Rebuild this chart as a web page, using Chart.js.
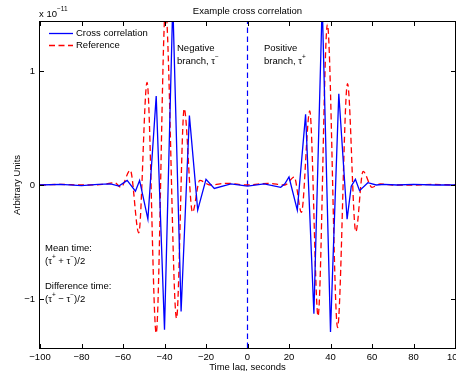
<!DOCTYPE html>
<html>
<head>
<meta charset="utf-8">
<script src="https://cdn.jsdelivr.net/npm/chart.js@4.4.0/dist/chart.umd.min.js"></script>
<style>
  html, body { margin: 0; padding: 0; background: #fff; }
  #wrap { width: 456px; height: 371px; position: relative; }
</style>
</head>
<body>
<div id="wrap"><canvas id="xcorr-chart"></canvas></div>
<script>
/* Example cross correlation - amplitudes in units of 1e-11 */

// Cross correlation (blue, sampled, straight segments)
const crossLag = [-100, -90, -80, -72, -66, -62, -58, -54, -52, -48, -44, -40, -36, -32, -28, -24, -20, -16, -8, 0,
  8, 16, 18, 20, 24, 28, 32, 36, 40, 44, 48, 50, 52, 54, 58, 62, 66, 72, 80, 90, 100];
const crossCorr = [0, 0.005, -0.005, 0.005, 0.01, -0.01, 0.04, -0.055, 0.04, -0.30, 0.78, -1.27, 1.60, -1.11, 0.61, -0.22, 0.05, -0.03, 0.01, -0.01,
  0.01, -0.02, 0.01, 0.07, -0.22, 0.62, -1.13, 1.60, -1.29, 0.80, -0.30, -0.01, 0.05, -0.05, 0.02, 0, 0.005, 0, 0.005, 0, 0];

// Reference (red dashed, smooth)
const refLag = [-100, -90, -80, -70, -64, -61, -56.5, -52.4, -48.4, -44, -39.5, -34.2, -30.5, -26.5, -23, -18, -10, 0,
  10, 18, 22.5, 26, 30, 34, 38.5, 43.4, 48.2, 52.2, 55.7, 60, 64, 70, 80, 90, 100];
const reference = [0, 0.005, 0, 0.005, 0.02, -0.02, 0.13, -0.42, 0.90, -1.30, 1.55, -1.17, 0.67, -0.24, 0.04, 0, 0.015, 0,
  0.015, 0, 0.07, -0.24, 0.65, -1.15, 1.41, -1.25, 0.89, -0.41, 0.12, -0.02, 0.01, 0, 0, 0.005, 0];

const xTickValues = [-100, -80, -60, -40, -20, 0, 20, 40, 60, 80, 100];
const yTickValues = [-1, 0, 1];
const Y_MIN = -1.43;
const Y_MAX = 1.43;

const FONT = '"Liberation Sans", Arial, Helvetica, sans-serif';
const BASE_FONT = '9.5px ' + FONT;
const SUP_FONT = '6.5px ' + FONT;

const fmt = v => (v < 0 ? '\u2212' + Math.abs(v) : String(v));
const toPoints = (xs, ys) => xs.map((x, i) => ({ x: x, y: ys[i] }));

// draw a line of text with superscript parts
function drawRich(ctx, parts, x, y, rise) {
  let cx = x;
  parts.forEach(p => {
    ctx.font = p.sup ? SUP_FONT : BASE_FONT;
    ctx.fillText(p.t, cx, p.sup ? y - (rise || 4) : y);
    cx += ctx.measureText(p.t).width;
  });
}

const matlabDecor = {
  id: 'matlabDecor',
  afterDatasetsDraw(chart) {
    const { ctx, chartArea: a, scales } = chart;
    const xs = scales.x, ys = scales.y;
    ctx.save();
    ctx.strokeStyle = '#000';
    ctx.lineWidth = 1;
    ctx.strokeRect(a.left - 0.5, a.top - 0.5, a.right - a.left + 1, a.bottom - a.top + 1);

    // inward tick marks
    ctx.beginPath();
    xTickValues.forEach(v => {
      const px = Math.round(xs.getPixelForValue(v)) + 0.5;
      ctx.moveTo(px, a.bottom); ctx.lineTo(px, a.bottom - 4);
      ctx.moveTo(px, a.top); ctx.lineTo(px, a.top + 4);
    });
    yTickValues.forEach(v => {
      const py = Math.round(ys.getPixelForValue(v)) + 0.5;
      ctx.moveTo(a.left, py); ctx.lineTo(a.left + 4, py);
      ctx.moveTo(a.right, py); ctx.lineTo(a.right - 4, py);
    });
    ctx.stroke();

    ctx.fillStyle = '#000';
    ctx.textBaseline = 'middle';

    // title
    ctx.font = BASE_FONT;
    ctx.textAlign = 'center';
    ctx.fillText('Example cross correlation', (a.left + a.right) / 2, 11);
    ctx.fillText('Time lag, seconds', (a.left + a.right) / 2, 367);

    ctx.save();
    ctx.translate(17, (a.top + a.bottom) / 2);
    ctx.rotate(-Math.PI / 2);
    ctx.fillText('Arbitrary Units', 0, 0);
    ctx.restore();

    ctx.textAlign = 'left';
    drawRich(ctx, [{ t: 'x 10' }, { t: '\u221211', sup: true }], 39, 14, 5);

    // legend
    const ds = chart.data.datasets;
    [0, 1].forEach(i => {
      const ly = 33.5 + i * 12;
      ctx.strokeStyle = ds[i].borderColor;
      ctx.lineWidth = ds[i].borderWidth;
      ctx.setLineDash(ds[i].borderDash || []);
      ctx.beginPath();
      ctx.moveTo(49, ly); ctx.lineTo(73, ly);
      ctx.stroke();
      ctx.setLineDash([]);
      ctx.font = BASE_FONT;
      ctx.fillText(ds[i].label, 76, ly);
    });

    // annotations
    ctx.font = BASE_FONT;
    ctx.fillText('Negative', 177, 48);
    drawRich(ctx, [{ t: 'branch, \u03c4' }, { t: '\u2212', sup: true }], 177, 61);
    ctx.font = BASE_FONT;
    ctx.fillText('Positive', 264, 48);
    drawRich(ctx, [{ t: 'branch, \u03c4' }, { t: '+', sup: true }], 264, 61);

    ctx.font = BASE_FONT;
    ctx.fillText('Mean time:', 45, 248);
    drawRich(ctx, [{ t: '(\u03c4' }, { t: '+', sup: true }, { t: ' + \u03c4' }, { t: '\u2212', sup: true }, { t: ')/2' }], 45, 261);
    ctx.font = BASE_FONT;
    ctx.fillText('Difference time:', 45, 286);
    drawRich(ctx, [{ t: '(\u03c4' }, { t: '+', sup: true }, { t: ' \u2212 \u03c4' }, { t: '\u2212', sup: true }, { t: ')/2' }], 45, 299);
    ctx.restore();
  }
};

const ctx = document.getElementById('xcorr-chart').getContext('2d');
new Chart(ctx, {
  type: 'line',
  data: {
    datasets: [
      {
        label: 'Cross correlation',
        data: toPoints(crossLag, crossCorr),
        borderColor: '#0000ff',
        borderWidth: 1.3,
        pointRadius: 0,
        tension: 0,
        order: 1
      },
      {
        label: 'Reference',
        data: toPoints(refLag, reference),
        borderColor: '#ff0000',
        borderWidth: 1.3,
        borderDash: [6, 3.5],
        pointRadius: 0,
        cubicInterpolationMode: 'monotone',
        order: 2
      },
      {
        label: 'zero lag',
        data: [{ x: 0, y: Y_MIN }, { x: 0, y: Y_MAX }],
        borderColor: '#0000ff',
        borderWidth: 1.2,
        borderDash: [5.5, 3.5],
        pointRadius: 0,
        order: 3
      }
    ]
  },
  options: {
    responsive: true,
    maintainAspectRatio: false,
    animation: false,
    layout: { padding: { top: 22, right: 1, left: 0, bottom: 0 } },
    plugins: {
      legend: { display: false },
      tooltip: { enabled: false }
    },
    scales: {
      x: {
        type: 'linear',
        min: -100,
        max: 100,
        grid: { display: false, drawTicks: false },
        border: { display: false },
        afterBuildTicks: s => { s.ticks = xTickValues.map(v => ({ value: v })); },
        afterFit: s => { s.height = 23; s.paddingLeft = 0; s.paddingRight = 0; },
        ticks: {
          padding: 4,
          maxRotation: 0,
          autoSkip: false,
          color: '#000',
          font: { family: FONT, size: 9.5 },
          callback: v => fmt(v)
        }
      },
      y: {
        type: 'linear',
        min: Y_MIN,
        max: Y_MAX,
        grid: { display: false, drawTicks: false },
        border: { display: false },
        afterBuildTicks: s => { s.ticks = yTickValues.map(v => ({ value: v })); },
        afterFit: s => { s.width = 40; s.paddingTop = 0; s.paddingBottom = 0; },
        ticks: {
          padding: 5,
          color: '#000',
          font: { family: FONT, size: 9.5 },
          callback: v => fmt(v)
        }
      }
    }
  },
  plugins: [matlabDecor]
});
</script>
</body>
</html>
